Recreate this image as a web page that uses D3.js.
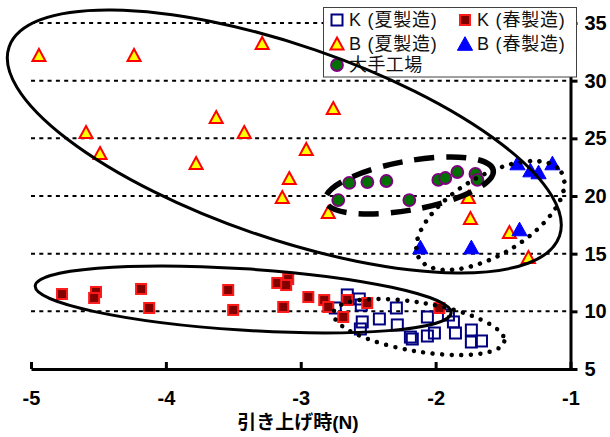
<!DOCTYPE html>
<html>
<head>
<meta charset="utf-8">
<script src="https://cdn.jsdelivr.net/npm/d3@7"></script>
<style>
  body { margin: 0; background: #fff; }
  svg { display: block; }
</style>
</head>
<body>
<svg id="chart" width="610" height="437"></svg>
<script>
// ---- data ---------------------------------------------------------------
const xTicks = [-5, -4, -3, -2, -1];
const yTicks = [5, 10, 15, 20, 25, 30, 35];
const gridValues = [10, 15, 20, 25, 30, 35];
const xTitle = "引き上げ時(N)";
const seriesNames = ["K (夏製造)", "K (春製造)", "B (夏製造)", "B (春製造)", "大手工場"];

// K, summer production
const kSummer = [
  [-2.744, 10.29], [-2.655, 11.42], [-2.566, 11.07], [-2.551, 10.55], [-2.544, 9.08],
  [-2.558, 8.47], [-2.417, 9.34], [-2.291, 10.29], [-2.284, 8.82], [-2.187, 7.77],
  [-2.173, 7.60], [-2.061, 9.51], [-2.061, 7.86], [-2.009, 8.12], [-1.905, 9.68],
  [-1.868, 9.08], [-1.853, 8.12], [-1.735, 8.38], [-1.735, 7.34], [-1.660, 7.43]
];
// K, spring production
const kSpring = [
  [-4.770, 11.50], [-4.518, 11.68], [-4.532, 11.16], [-4.184, 11.94], [-4.124, 10.29],
  [-3.538, 11.85], [-3.501, 10.12], [-3.174, 12.46], [-3.093, 12.80], [-3.108, 12.28],
  [-3.130, 10.38], [-2.944, 11.24], [-2.826, 10.98], [-2.796, 10.38], [-2.655, 10.98],
  [-2.685, 9.51], [-2.507, 10.72], [-1.972, 10.29]
];
// B, summer production
const bSummer = [
  [-4.941, 32.23], [-4.236, 32.23], [-3.286, 33.27], [-3.627, 26.85], [-4.592, 25.55],
  [-3.419, 25.55], [-4.488, 23.73], [-2.959, 24.08], [-3.776, 22.86], [-3.085, 21.56],
  [-3.137, 19.91], [-2.759, 27.63], [-2.796, 18.61], [-1.757, 19.91], [-1.742, 18.09],
  [-1.453, 16.88], [-1.312, 14.71]
];
// B, spring production
const bSpring = [
  [-1.393, 22.86], [-1.297, 22.25], [-1.237, 22.08], [-1.134, 22.86],
  [-1.378, 17.14], [-1.735, 15.58], [-2.113, 15.58]
];
// large manufacturer
const bigFactory = [
  [-2.722, 19.65], [-2.640, 21.13], [-2.506, 21.21], [-2.365, 21.30], [-2.195, 19.65],
  [-1.980, 21.39], [-1.928, 21.56], [-1.839, 22.08], [-1.705, 21.91], [-1.690, 21.39]
];

// ---- layout ---------------------------------------------------------------
const svg = d3.select("#chart");
const x = d3.scaleLinear().domain([-5, -1]).range([31, 570.5]);
const y = d3.scaleLinear().domain([5, 35]).range([369, 23]);

const tickFont = "'Liberation Sans', Arial, sans-serif";
const labelFont = "'Liberation Sans', 'Noto Sans CJK JP', sans-serif";

// dotted horizontal gridlines
svg.append("g").selectAll("line").data(gridValues).join("line")
  .attr("x1", x(-5)).attr("x2", x(-1))
  .attr("y1", d => y(d)).attr("y2", d => y(d))
  .attr("stroke", "#000").attr("stroke-width", 2)
  .attr("stroke-dasharray", "4 4.3");

// ---- marker shapes ----------------------------------------------------------
function triPath(hw, hh) {
  return `M0,${-hh}L${hw},${hh}L${-hw},${hh}Z`;
}
const styles = [
  { draw: g => g.append("rect").attr("x", -5.5).attr("y", -5.5).attr("width", 11).attr("height", 11)
      .attr("fill", "none").attr("stroke", "#000080").attr("stroke-width", 2) },
  { draw: g => g.append("rect").attr("x", -5).attr("y", -5).attr("width", 10).attr("height", 10)
      .attr("fill", "#800000").attr("stroke", "#ff1a1a").attr("stroke-width", 2) },
  { draw: g => g.append("path").attr("d", triPath(6.5, 6))
      .attr("fill", "#ffff00").attr("stroke", "#ff0000").attr("stroke-width", 2).attr("stroke-linejoin", "miter") },
  { draw: g => g.append("path").attr("d", triPath(7.6, 6.8))
      .attr("fill", "#0000ff").attr("stroke", "#0000ff").attr("stroke-width", 1) },
  { draw: g => g.append("circle").attr("r", 6)
      .attr("fill", "#007000").attr("stroke", "#800080").attr("stroke-width", 1.8) }
];
const allSeries = [kSummer, kSpring, bSummer, bSpring, bigFactory];

allSeries.forEach((pts, i) => {
  const g = svg.append("g");
  g.selectAll("g").data(pts).join("g")
    .attr("transform", d => `translate(${x(d[0])},${y(d[1])})`)
    .each(function () { styles[i].draw(d3.select(this)); });
});

// ---- axes ------------------------------------------------------------------
const xAxis = svg.append("g").attr("transform", `translate(0,${y(5)})`)
  .call(d3.axisBottom(x).tickValues(xTicks).tickSizeInner(-7).tickSizeOuter(0).tickPadding(21.5)
    .tickFormat(d3.format("d")));
const yAxis = svg.append("g").attr("transform", `translate(${x(-1)},0)`)
  .call(d3.axisRight(y).tickValues(yTicks).tickSizeInner(7).tickSizeOuter(0).tickPadding(7)
    .tickFormat(d3.format("d")));
[xAxis, yAxis].forEach(a => {
  a.select(".domain").attr("stroke", "#000").attr("stroke-width", 3);
  a.selectAll(".tick line").attr("stroke", "#000").attr("stroke-width", 3);
  a.selectAll(".tick text").attr("fill", "#000")
    .style("font-family", tickFont).style("font-weight", "bold").style("font-size", "20px");
});
xAxis.selectAll(".tick text").text(d => d < 0 ? "-" + Math.abs(d) : d);

svg.append("text")
  .attr("x", 298).attr("y", 428.5)
  .attr("text-anchor", "middle")
  .style("font-family", labelFont).style("font-weight", "bold").style("font-size", "19px")
  .text(xTitle);

// ---- legend ----------------------------------------------------------------
const legend = svg.append("g");
legend.append("rect").attr("x", 323.5).attr("y", 7.5).attr("width", 253).attr("height", 69.5)
  .attr("fill", "#fff").attr("stroke", "#404040").attr("stroke-width", 1);
const legendSlots = [[337, 20], [465, 20], [337, 43.5], [465, 43.5], [337, 65]];
seriesNames.forEach((name, i) => {
  const [lx, ly] = legendSlots[i];
  const g = legend.append("g").attr("transform", `translate(${lx},${ly})`);
  styles[i].draw(g);
  legend.append("text").attr("x", lx + 12).attr("y", ly).attr("dy", "0.36em")
    .style("font-family", labelFont).style("font-size", "18px")
    .style("letter-spacing", i === 4 ? "0.4px" : "0.8px").attr("fill", "#111")
    .text(name);
});

// ---- group outlines ---------------------------------------------------------
const outlines = [
  { cx: -3.122, cy: 24.73, rx: 291, ry: 96.6, angle: 18.96, width: 3, dash: null },
  { cx: -3.427, cy: 11.03, rx: 208.4, ry: 30.7, angle: 3.7, width: 3, dash: null },
  { cx: -2.195, cy: 20.91, rx: 85.3, ry: 24.5, angle: -10.3, width: 5.5, dash: "20 12" },
  { cx: -1.594, cy: 18.31, rx: 83.1, ry: 39.3, angle: -31, width: 4.5, dash: "0 9.5", round: true },
  { cx: -2.124, cy: 8.64, rx: 86.6, ry: 24.4, angle: 9.55, width: 4.5, dash: "0 9.5", round: true }
];
svg.append("g").selectAll("ellipse").data(outlines).join("ellipse")
  .attr("transform", d => `translate(${x(d.cx)},${y(d.cy)}) rotate(${d.angle})`)
  .attr("rx", d => d.rx).attr("ry", d => d.ry)
  .attr("fill", "none").attr("stroke", "#000")
  .attr("stroke-width", d => d.width)
  .attr("stroke-dasharray", d => d.dash)
  .attr("stroke-linecap", d => d.round ? "round" : "butt");
</script>
</body>
</html>
